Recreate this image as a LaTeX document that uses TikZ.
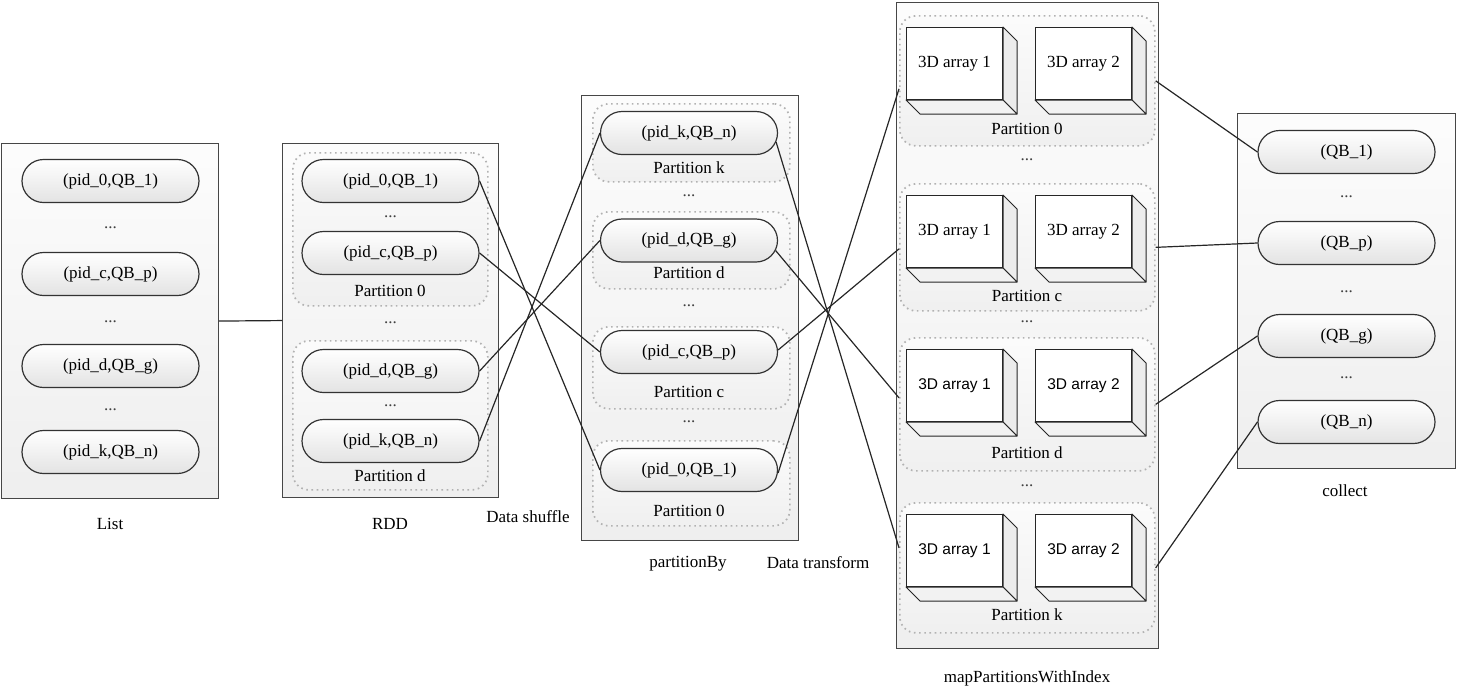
\documentclass[tikz,border=0pt]{standalone}
\usepackage{fontspec}
\setmainfont{Liberation Serif}
\newfontfamily\sansf{Liberation Sans}
\usetikzlibrary{shapes.misc,calc}

\tikzset{
 outerbox/.style={draw=gray!55!black, line width=1.1pt, top color=gray!2, bottom color=gray!13, anchor=north west, inner sep=0pt},
 pill/.style={rounded rectangle, draw=gray!40!black, line width=1.2pt, top color=white, bottom color=gray!22, minimum width=177pt, minimum height=43pt, inner sep=0pt},
 part/.style={draw=gray!60, line width=1.7pt, dash pattern=on 1.6pt off 3.6pt, rounded corners=16pt, top color=gray!3, bottom color=gray!12, anchor=north west, inner sep=0pt},
 dotsy/.style={text=gray!50!black},
 conn/.style={line width=1.2pt, draw=black!85},
 frontface/.style={draw=gray!30!black, line width=1pt, fill=white, minimum width=96pt, minimum height=72pt, anchor=north west, inner sep=0pt},
 sideface/.style={draw=gray!30!black, line width=1pt, fill=gray!15, line join=round},
}

\newcommand{\arrbox}[4]{%
 \node[frontface] (#1) at (#2,#3) {#4};
 \draw[sideface] (#1.north east) -- ++(14,14) -- ($(#1.south east)+(14,14)$) -- (#1.south east) -- cycle;
 \draw[sideface, fill=gray!10] (#1.south west) -- ++(14,14) -- ($(#1.south east)+(14,14)$) -- (#1.south east) -- cycle;
}
\newcommand{\sanstext}{\sansf\fontsize{15.5}{18}\selectfont}

\begin{document}
\begin{tikzpicture}[x=1pt,y=-1pt, font=\fontsize{17}{20}\selectfont]
\useasboundingbox (0,0) rectangle (1458,689);
% outer boxes
\node[outerbox, minimum width=217pt, minimum height=355pt] (list) at (1,143) {};
\node[outerbox, minimum width=216pt, minimum height=354pt] (rdd) at (282,143) {};
\node[outerbox, minimum width=217pt, minimum height=445pt] (pby) at (581,95) {};
\node[outerbox, minimum width=262pt, minimum height=646pt] (map) at (896,2) {};
\node[outerbox, minimum width=218pt, minimum height=355pt] (col) at (1237,113) {};

% captions
\node (tlist) at (110,524) {List};
\node (trdd) at (390,524) {RDD};
\node (tshuf) at (528,517) {Data shuffle};
\node (tpby) at (688,564) {partitionBy};
\node (ttrans) at (818,563) {Data transform};
\node (tmap) at (1027,678) {mapPartitionsWithIndex};
\node (tcol) at (1345,491) {collect};

% List
\node[pill] (l1) at (110.5,181) {(pid\_0,QB\_1)};
\node[pill] (l2) at (110.5,274) {(pid\_c,QB\_p)};
\node[pill] (l3) at (110.5,366) {(pid\_d,QB\_g)};
\node[pill] (l4) at (110.5,452) {(pid\_k,QB\_n)};
\node[dotsy] (ld1) at (110.5,228) {...};
\node[dotsy] (ld2) at (110.5,322) {...};
\node[dotsy] (ld3) at (110.5,410) {...};

% RDD
\node[part, minimum width=195pt, minimum height=153pt] (r0) at (292,152) {};
\node[part, minimum width=195pt, minimum height=149pt] (rd) at (292,340) {};
\node[pill] (r1) at (390.5,181) {(pid\_0,QB\_1)};
\node[pill] (r2) at (390.5,253) {(pid\_c,QB\_p)};
\node[pill] (r3) at (390.5,371) {(pid\_d,QB\_g)};
\node[pill] (r4) at (390.5,441) {(pid\_k,QB\_n)};
\node[dotsy] (rd1) at (390.5,217) {...};
\node[dotsy] (rd2) at (390.5,323) {...};
\node[dotsy] (rd3) at (390.5,406) {...};
\node (rl0) at (390,291) {Partition 0};
\node (rld) at (390,476) {Partition d};

% partitionBy
\node[part, minimum width=197pt, minimum height=78pt] (pk) at (592,103) {};
\node[part, minimum width=197pt, minimum height=77pt] (pd) at (592,211) {};
\node[part, minimum width=197pt, minimum height=82pt] (pc) at (592,326) {};
\node[part, minimum width=197pt, minimum height=85pt] (p0) at (592,440) {};
\node[pill] (q1) at (689,133) {(pid\_k,QB\_n)};
\node[pill] (q2) at (689,240.5) {(pid\_d,QB\_g)};
\node[pill] (q3) at (689,352) {(pid\_c,QB\_p)};
\node[pill] (q4) at (689,470) {(pid\_0,QB\_1)};
\node (qlk) at (689,168) {Partition k};
\node (qld) at (689,273) {Partition d};
\node (qlc) at (689,392) {Partition c};
\node (ql0) at (689,511) {Partition 0};
\node[dotsy] (qd1) at (689,196) {...};
\node[dotsy] (qd2) at (689,306) {...};
\node[dotsy] (qd3) at (689,422) {...};

% mapPartitionsWithIndex
\node[part, minimum width=255pt, minimum height=130pt] (m0) at (899,15) {};
\node[part, minimum width=255pt, minimum height=127pt] (mc) at (899,183) {};
\node[part, minimum width=255pt, minimum height=133pt] (md) at (899,337) {};
\node[part, minimum width=255pt, minimum height=130pt] (mk) at (899,502) {};
\arrbox{a01}{906}{27}{3D array 1}
\arrbox{a02}{1035}{27}{3D array 2}
\arrbox{ac1}{906}{195}{3D array 1}
\arrbox{ac2}{1035}{195}{3D array 2}
\arrbox{ad1}{906}{349}{\sanstext 3D array 1}
\arrbox{ad2}{1035}{349}{\sanstext 3D array 2}
\arrbox{ak1}{906}{514}{\sanstext 3D array 1}
\arrbox{ak2}{1035}{514}{\sanstext 3D array 2}
\node (ml0) at (1027,129) {Partition 0};
\node (mlc) at (1027,296) {Partition c};
\node (mld) at (1027,453) {Partition d};
\node (mlk) at (1027,615) {Partition k};
\node[dotsy] (md1) at (1027,160) {...};
\node[dotsy] (md2) at (1027,322) {...};
\node[dotsy] (md3) at (1027,486) {...};

% collect
\node[pill] (c1) at (1346.5,152) {(QB\_1)};
\node[pill] (c2) at (1346.5,243) {(QB\_p)};
\node[pill] (c3) at (1346.5,336) {(QB\_g)};
\node[pill] (c4) at (1346.5,422) {(QB\_n)};
\node[dotsy] (cd1) at (1346.5,197) {...};
\node[dotsy] (cd2) at (1346.5,292) {...};
\node[dotsy] (cd3) at (1346.5,378) {...};

% connectors
\draw[conn] (list.east) -- (rdd.west);
\draw[conn] (r1.east) -- (q4.west);
\draw[conn] (r2.east) -- (q3.west);
\draw[conn] (r3.east) -- (q2.west);
\draw[conn] (r4.east) -- (q1.west);
\draw[conn] ($(q1.east)+(-2,9)$) -- ($(mk.west)+(0,-20)$);
\draw[conn] ($(q2.east)+(-2.5,10)$) -- ($(md.west)+(0,-6.5)$);
\draw[conn] ($(q3.east)+(0,-2)$) -- ($(mc.west)+(0,1.5)$);
\draw[conn] ($(q4.east)+(0,3)$) -- ($(m0.west)+(0,8)$);
\draw[conn] (m0.east) -- (c1.west);
\draw[conn] (mc.east) -- (c2.west);
\draw[conn] (md.east) -- (c3.west);
\draw[conn] (mk.east) -- (c4.west);
\end{tikzpicture}
\end{document}
